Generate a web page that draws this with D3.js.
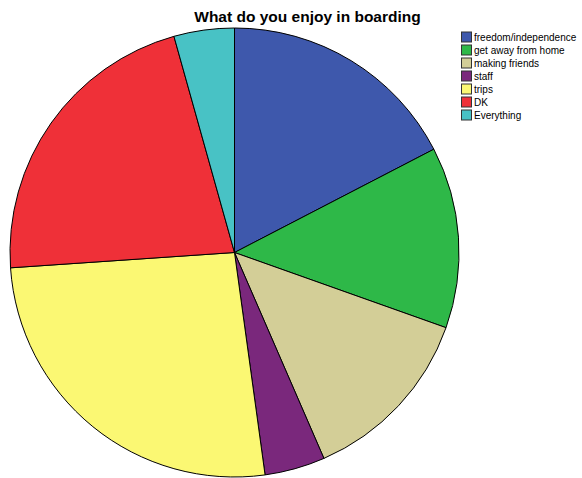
<!DOCTYPE html>
<html><head><meta charset="utf-8">
<script src="https://cdn.jsdelivr.net/npm/d3@7"></script>
<style>body{margin:0;background:#fff}svg{display:block}</style>
</head><body>
<script>
const categories = ["freedom/independence","get away from home","making friends","staff","trips","DK","Everything"];
const counts = [4,3,3,1,6,5,1];
const colors = ["#3e58ac","#2eb848","#d3ce97","#7a287c","#fbf873","#ef3038","#48c2c5"];
const title = "What do you enjoy in boarding";

const W=582,H=478;
const svg=d3.select("body").append("svg").attr("width",W).attr("height",H);
svg.append("text").attr("x",307.5).attr("y",22).attr("text-anchor","middle")
  .attr("font-family","Liberation Sans, Arial, sans-serif").attr("font-weight","bold").attr("font-size",15.5)
  .text(title);
const cx=234.5, cy=252.5, r=224.5;
const pie=d3.pie().sort(null).value(d=>d)(counts);
const arc=d3.arc().innerRadius(0).outerRadius(r);
const g=svg.append("g").attr("transform",`translate(${cx},${cy})`);
g.selectAll("path").data(pie).join("path").attr("d",arc)
  .attr("fill",(d,i)=>colors[i]).attr("stroke","#000").attr("stroke-width",1);
const color=d3.scaleOrdinal().domain(categories).range(colors);
const y=d3.scalePoint().domain(categories).range([37.5,115.5]);
const lg=svg.append("g");
const items=lg.selectAll("g").data(categories).join("g").attr("transform",d=>`translate(461,${y(d)})`);
items.append("rect").attr("x",0.5).attr("y",-5.5).attr("width",10).attr("height",10)
  .attr("fill",d=>color(d)).attr("stroke","#333").attr("stroke-width",1);
items.append("text").attr("x",13).attr("y",3.5).attr("font-family","Liberation Sans, Arial, sans-serif")
  .attr("font-size",10).attr("fill","#000").text(d=>d);
</script>
</body></html>
